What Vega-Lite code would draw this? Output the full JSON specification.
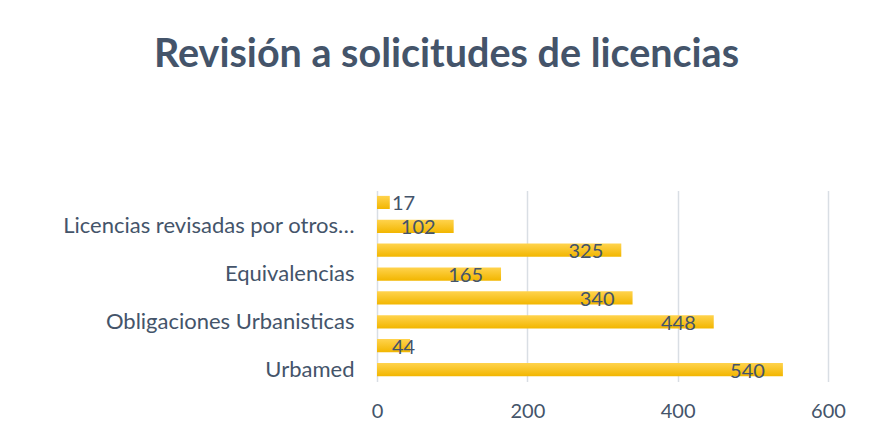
{
  "$schema": "https://vega.github.io/schema/vega-lite/v6.json",
  "autosize": {"type": "none"},
  "width": 451,
  "height": 191,
  "padding": {"left": 377, "top": 190.5, "right": 44, "bottom": 47.5},
  "background": "#ffffff",
  "title": {
    "text": "Revisión a solicitudes de licencias",
    "font": "Lato",
    "fontSize": 39.5,
    "fontWeight": "bold",
    "color": "#44546A",
    "anchor": "middle",
    "frame": "group",
    "baseline": "alphabetic",
    "offset": 84,
    "dx": -156
  },
  "data": {
    "values": [
      {"categoria": "Categoría 8", "valor": 17},
      {"categoria": "Licencias revisadas por otros…", "valor": 102},
      {"categoria": "Categoría 6", "valor": 325},
      {"categoria": "Equivalencias", "valor": 165},
      {"categoria": "Categoría 4", "valor": 340},
      {"categoria": "Obligaciones Urbanisticas", "valor": 448},
      {"categoria": "Categoría 2", "valor": 44},
      {"categoria": "Urbamed", "valor": 540}
    ]
  },
  "encoding": {
    "y": {
      "field": "categoria",
      "type": "nominal",
      "sort": null,
      "scale": {"paddingInner": 0.45, "paddingOuter": 0.225},
      "axis": {
        "title": null,
        "ticks": false,
        "domain": false,
        "labelPadding": 23,
        "labelFont": "Lato",
        "labelFontSize": 22,
        "labelColor": "#44546A",
        "labelLimit": 400,
        "labelExpr": "indexof(['Urbamed','Obligaciones Urbanisticas','Equivalencias','Licencias revisadas por otros…'], datum.value) >= 0 ? datum.label : ''"
      }
    }
  },
  "layer": [
    {
      "mark": {
        "type": "bar",
        "color": {
          "gradient": "linear",
          "x1": 0, "y1": 0, "x2": 0, "y2": 1,
          "stops": [
            {"offset": 0, "color": "#FFD34D"},
            {"offset": 1, "color": "#F2B600"}
          ]
        }
      },
      "encoding": {
        "x": {
          "field": "valor",
          "type": "quantitative",
          "scale": {"domain": [0, 600], "nice": false},
          "axis": {
            "title": null,
            "values": [0, 200, 400, 600],
            "ticks": false,
            "domain": false,
            "grid": true,
            "gridColor": "#D9DEE4",
            "gridWidth": 1.5,
            "labelFlush": false,
            "labelPadding": 20,
            "labelFont": "Lato",
            "labelFontSize": 20,
            "labelColor": "#44546A"
          }
        }
      }
    },
    {
      "transform": [{"filter": "datum.valor >= 100"}],
      "mark": {"type": "text", "align": "right", "baseline": "middle", "dx": -18, "dy": 2, "font": "Lato", "fontSize": 20, "color": "#44546A"},
      "encoding": {
        "x": {"field": "valor", "type": "quantitative"},
        "text": {"field": "valor", "type": "quantitative"}
      }
    },
    {
      "transform": [{"filter": "datum.valor < 100"}],
      "mark": {"type": "text", "align": "left", "baseline": "middle", "dx": 15, "dy": 2, "font": "Lato", "fontSize": 20, "color": "#44546A"},
      "encoding": {
        "x": {"datum": 0, "type": "quantitative"},
        "text": {"field": "valor", "type": "quantitative"}
      }
    }
  ],
  "config": {"view": {"stroke": null}}
}
